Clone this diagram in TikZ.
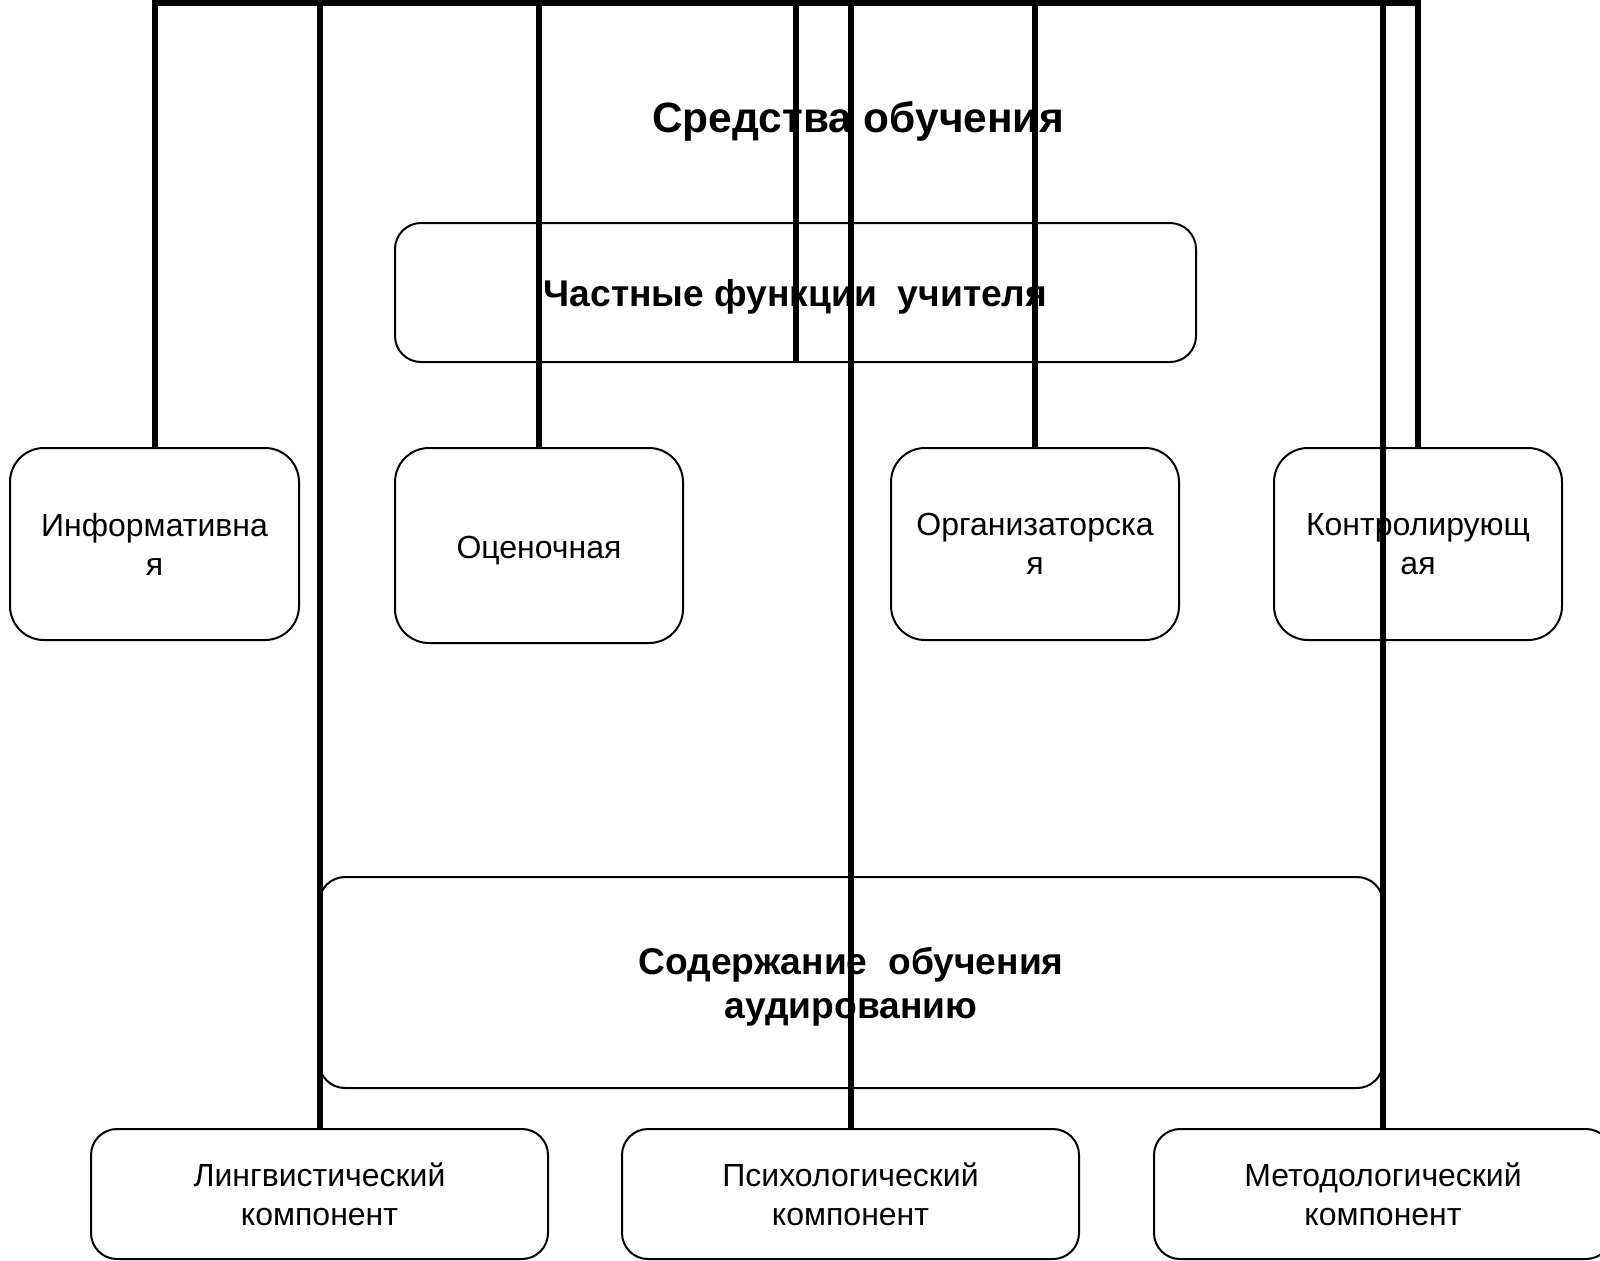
\documentclass[tikz,border=0pt]{standalone}
\usepackage{fontspec}
\setmainfont{Liberation Sans}
\newcommand{\lowtext}[1]{\raisebox{-2.75pt}[\height][\depth]{\begin{tabular}{@{}c@{}}#1\end{tabular}}}
\begin{document}
\begin{tikzpicture}[x=0.5pt,y=-0.5pt,
  box/.style={draw=black,line width=1pt,rounded corners=13pt,inner sep=0pt,align=center,
    font=\fontsize{16}{19.5}\selectfont},
  midbox/.style={box,rounded corners=17pt},
  boldbox/.style={box,font=\fontsize{18.6}{22}\selectfont\bfseries},
  bus/.style={line width=3pt,line join=miter}]
\useasboundingbox (0,0) rectangle (1600,1260);
\clip (0,0) rectangle (1600,1260);
\node[font=\fontsize{21.2}{25}\selectfont\bfseries] (title) at (858,121) {Средства обучения};
\node[boldbox,minimum width=400.5pt,minimum height=69.5pt] (func) at (795.5,292.5) {\lowtext{Частные функции\ \ учителя}};
\node[midbox,minimum width=144.5pt,minimum height=96pt] (inf) at (154.5,544) {Информативна\\я};
\node[midbox,minimum width=144pt,minimum height=97.5pt] (ots) at (539,545.5) {\lowtext{Оценочная}};
\node[midbox,minimum width=144pt,minimum height=96pt] (org) at (1035,544) {Организаторска\\я};
\node[midbox,minimum width=144pt,minimum height=96pt] (kon) at (1418,544) {Контролирующ\\ая};
\node[boldbox,minimum width=532pt,minimum height=105.5pt] (sod) at (851,982.5) {\lowtext{Содержание\ \ обучения\\аудированию}};
\node[box,minimum width=228.5pt,minimum height=65pt] (lin) at (319.5,1194) {Лингвистический\\компонент};
\node[box,minimum width=228.5pt,minimum height=65pt] (psi) at (850.5,1194) {Психологический\\компонент};
\node[box,minimum width=229pt,minimum height=65pt] (met) at (1383,1194) {Методологический\\компонент};
\coordinate (top) at (0,3);
\draw[bus] (inf.north) -- (inf.north |- top) -- (kon.north |- top) -- (kon.north);
\draw[bus] (lin.north) -- (lin.north |- top);
\draw[bus] (ots.north) -- (ots.north |- top);
\draw[bus] (func.south) -- (func.south |- top);
\draw[bus] (psi.north) -- (psi.north |- top);
\draw[bus] (org.north) -- (org.north |- top);
\draw[bus] (met.north) -- (met.north |- top);
\end{tikzpicture}
\end{document}
